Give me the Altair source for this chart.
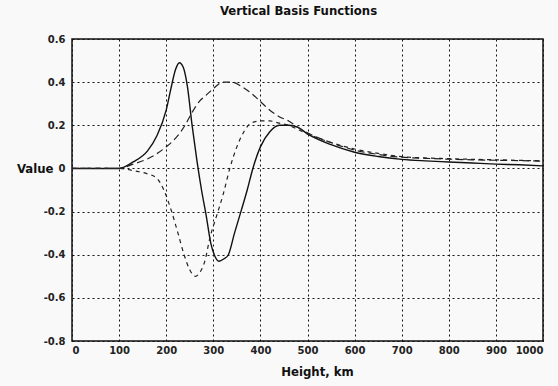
import altair as alt
import pandas as pd

# Curve 1 (solid)
h1 = [0, 100, 130, 160, 180, 200, 210, 220, 228, 236, 245, 255, 265, 275, 285, 295, 302, 312, 322, 332, 345, 360, 372, 384, 400, 420, 440, 460, 480, 500, 550, 600, 650, 700, 750, 800, 850, 900, 950, 1000]
v1 = [0, 0, 0.03, 0.08, 0.15, 0.27, 0.37, 0.46, 0.49, 0.47, 0.38, 0.2, 0.04, -0.1, -0.22, -0.35, -0.4, -0.43, -0.42, -0.4, -0.3, -0.19, -0.1, 0.0, 0.1, 0.17, 0.2, 0.2, 0.19, 0.16, 0.11, 0.075, 0.055, 0.042, 0.035, 0.03, 0.025, 0.02, 0.017, 0.012]

# Curve 2 (long dash, peak 0.4)
h2 = [0, 100, 130, 170, 200, 220, 240, 255, 270, 285, 300, 320, 340, 360, 380, 400, 420, 440, 460, 480, 500, 550, 600, 650, 700, 750, 800, 850, 900, 950, 1000]
v2 = [0, 0, 0.02, 0.055, 0.1, 0.14, 0.2, 0.26, 0.31, 0.34, 0.37, 0.4, 0.4, 0.38, 0.35, 0.31, 0.27, 0.24, 0.22, 0.19, 0.165, 0.12, 0.085, 0.065, 0.052, 0.047, 0.043, 0.04, 0.038, 0.036, 0.034]

# Curve 3 (short dash, dips first)
h3 = [0, 100, 130, 160, 180, 195, 210, 225, 238, 250, 262, 272, 282, 293, 307, 321, 335, 350, 365, 380, 400, 420, 440, 460, 480, 500, 550, 600, 650, 700, 800, 900, 1000]
v3 = [0, 0, -0.01, -0.025, -0.045, -0.1, -0.19, -0.3, -0.4, -0.47, -0.5, -0.48, -0.43, -0.32, -0.22, -0.12, 0.0, 0.1, 0.17, 0.21, 0.22, 0.22, 0.21, 0.2, 0.18, 0.16, 0.12, 0.09, 0.07, 0.055, 0.045, 0.04, 0.035]

x_ticks = [0, 100, 200, 300, 400, 500, 600, 700, 800, 900, 1000]
y_ticks = [-0.8, -0.6, -0.4, -0.2, 0, 0.2, 0.4, 0.6]

FONT = "DejaVu Sans Condensed"
LFONT = "DejaVu Sans"

df1 = pd.DataFrame({"h": h1, "v": v1})
df2 = pd.DataFrame({"h": h2, "v": v2})
df3 = pd.DataFrame({"h": h3, "v": v3})

xenc = alt.X("h:Q", scale=alt.Scale(domain=[0, 1000], nice=False),
             axis=alt.Axis(values=x_ticks, title="Height, km", grid=True, format="d",
                           gridColor="#111", gridDash=[2, 3], gridWidth=1,
                           domain=False, ticks=False, labelPadding=4,
                           labelFontSize=10, labelFont=LFONT, labelFontWeight="bold",
                           labelColor="#222",
                           titleFont=FONT, titleFontSize=13, titleFontWeight="bold",
                           titlePadding=10, titleColor="#111", titleX=245))
yenc = alt.Y("v:Q", scale=alt.Scale(domain=[-0.8, 0.6], nice=False),
             axis=alt.Axis(values=y_ticks, title="Value", grid=True,
                           gridColor="#111", gridDash=[2, 3], gridWidth=1,
                           domain=False, ticks=False, labelPadding=7,
                           labelFontSize=10, labelFont=LFONT, labelFontWeight="bold",
                           labelColor="#222",
                           labelExpr="datum.value == 0 ? '0' : (datum.value < 0 ? '-' + format(-datum.value, '.1f') : format(datum.value, '.1f'))",
                           titleFont=FONT, titleFontSize=13, titleFontWeight="bold",
                           titleAngle=0, titleAlign="right", titleBaseline="middle",
                           titleX=-19, titleY=129, titleColor="#111"))

l1 = alt.Chart(df1).mark_line(color="#111", strokeWidth=1.4, interpolate="monotone").encode(x=xenc, y=yenc)
l2 = alt.Chart(df2).mark_line(color="#222", strokeWidth=1.2, strokeDash=[7, 4], interpolate="monotone").encode(x="h:Q", y="v:Q")
l3 = alt.Chart(df3).mark_line(color="#222", strokeWidth=1.2, strokeDash=[4, 4], interpolate="monotone").encode(x="h:Q", y="v:Q")

chart = (l1 + l2 + l3).properties(
    width=471, height=302,
    title=alt.TitleParams("Vertical Basis Functions", font=FONT, fontSize=13,
                          fontWeight="bold", color="#111", offset=16, dx=-9),
    autosize=alt.AutoSizeParams(type="none"),
    padding={"left": 72, "top": 39, "right": 15, "bottom": 45},
    background="#f9f9f9",
).configure_view(stroke="#111", strokeWidth=1.5)

chart.save("out.html", embed_options={"renderer": "svg", "actions": False})
